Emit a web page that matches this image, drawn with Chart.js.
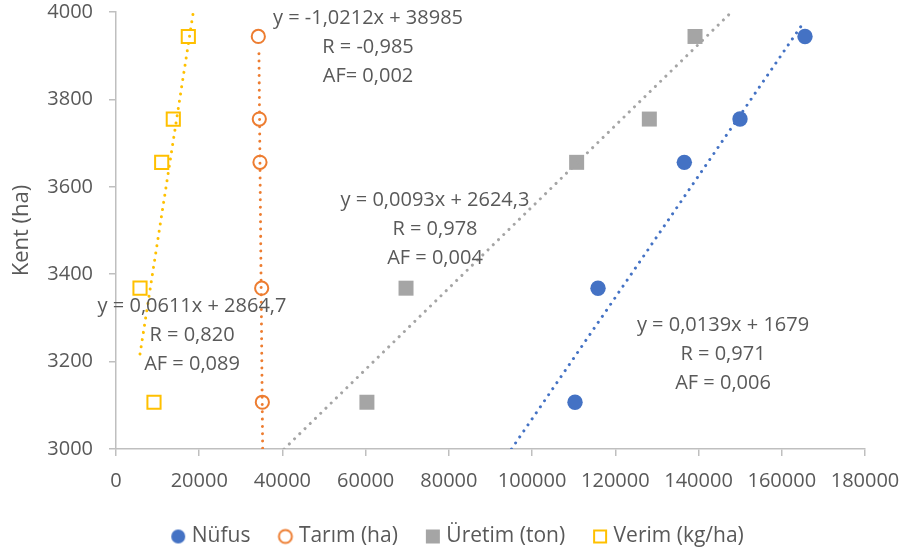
<!DOCTYPE html>
<html><head><meta charset="utf-8">
<script src="https://cdn.jsdelivr.net/npm/chart.js@4"></script>
<style>html,body{margin:0;padding:0;background:#fff}#wrap{width:907px;height:554px;position:relative}</style>
</head><body><div id="wrap"><canvas id="c"></canvas></div>
<script>
// ---- data ----
const seriesNames = ['Nüfus', 'Tarım (ha)', 'Üretim (ton)', 'Verim (kg/ha)'];
const kent = [3944, 3755, 3656, 3368, 3107];
const nufus = [165580, 149960, 136580, 115840, 110310];
const tarim = [34200, 34440, 34600, 35010, 35170];
const uretim = [139150, 128170, 110700, 69700, 60300];
const verim = [17380, 13770, 10980, 5770, 9130];
const trendSlope = [0.0139, -1.0212, 0.0093, 0.0611];
const trendIntercept = [1679, 38985, 2624.3, 2864.7];
const trendStartX = [95036, 34352, 40398, 5770];
const trendEndX = [165000, 35238, 147925, 18581];
const eqLabels = ['y = 0,0139x + 1679', 'y = -1,0212x + 38985', 'y = 0,0093x + 2624,3', 'y = 0,0611x + 2864,7'];
const rLabels = ['R = 0,971', 'R = -0,985', 'R = 0,978', 'R = 0,820'];
const afLabels = ['AF = 0,006', 'AF= 0,002', 'AF = 0,004', 'AF = 0,089'];
const xTicks = [0, 20000, 40000, 60000, 80000, 100000, 120000, 140000, 160000, 180000];
const yTicks = [3000, 3200, 3400, 3600, 3800, 4000];
const yTitle = 'Kent (ha)';

// ---- styles ----
const colors = ['#4472C4', '#ED7D31', '#A5A5A5', '#FFC000'];
const TEXT = '#595959';
const FONT = '"Open Sans", "Noto Sans", sans-serif';
const labelAnchors = [[145880, 3284], [60560, 3985], [76660, 3570], [18270, 3327]];

function pts(xs) { return xs.map((x, i) => ({x: x, y: kent[i]})); }
function trendPts(i) {
  return [trendStartX[i], trendEndX[i]].map(x => ({x: x, y: trendSlope[i] * x + trendIntercept[i]}));
}
// legend icons: wide canvas with the marker shifted right so it sits close to its text
function icon(kind, color) {
  const c = document.createElement('canvas');
  c.width = 30; c.height = 18;
  const g = c.getContext('2d');
  const cx = 21, cy = 9;
  g.fillStyle = color; g.strokeStyle = color; g.lineWidth = 2;
  if (kind === 0) { g.beginPath(); g.arc(cx, cy, 7, 0, Math.PI * 2); g.fill(); }
  if (kind === 1) { g.beginPath(); g.arc(cx, cy, 6.5, 0, Math.PI * 2); g.stroke(); }
  if (kind === 2) { g.fillRect(cx - 7, cy - 7, 14, 14); }
  if (kind === 3) { g.strokeRect(cx - 6, cy - 6, 12, 12); }
  return c;
}
const icons = colors.map((c, i) => icon(i, c));

const trendSets = colors.map((c, i) => ({
  label: 'trend' + i, data: trendPts(i), showLine: true, pointRadius: 0, pointHoverRadius: 0,
  borderColor: c, borderWidth: 3, borderDash: [0.01, 7.3], borderCapStyle: 'round', fill: false
}));
const markerSets = [
  {label: seriesNames[0], data: pts(nufus), pointStyle: 'circle', pointRadius: 7.7, backgroundColor: colors[0], borderColor: colors[0], borderWidth: 0},
  {label: seriesNames[1], data: pts(tarim), pointStyle: 'circle', pointRadius: 6.6, backgroundColor: 'rgba(0,0,0,0)', borderColor: colors[1], borderWidth: 2},
  {label: seriesNames[2], data: pts(uretim), pointStyle: 'rect', pointRadius: 10.6, backgroundColor: colors[2], borderColor: colors[2], borderWidth: 0},
  {label: seriesNames[3], data: pts(verim), pointStyle: 'rect', pointRadius: 9.3, backgroundColor: 'rgba(0,0,0,0)', borderColor: colors[3], borderWidth: 2}
];

const annot = {
  id: 'annot',
  afterDraw(chart) {
    const ctx = chart.ctx, xs = chart.scales.x, ys = chart.scales.y;
    ctx.save();
    ctx.font = '20px ' + FONT; ctx.fillStyle = TEXT;
    ctx.textAlign = 'center'; ctx.textBaseline = 'middle';
    labelAnchors.forEach((a, i) => {
      const px = xs.getPixelForValue(a[0]), py = ys.getPixelForValue(a[1]);
      [eqLabels[i], rLabels[i], afLabels[i]].forEach((t, k) => ctx.fillText(t, px, py + k * 29));
    });
    ctx.restore();
  }
};

new Chart(document.getElementById('c'), {
  type: 'scatter',
  data: {datasets: trendSets.concat(markerSets)},
  options: {
    responsive: true, maintainAspectRatio: false, animation: false,
    layout: {padding: {left: 0, right: 0, top: 0, bottom: -3}},
    plugins: {
      tooltip: {enabled: false},
      legend: {
        position: 'bottom',
        labels: {
          usePointStyle: true, pointStyleWidth: 18, boxWidth: 18, boxHeight: 7, padding: 20,
          font: {family: FONT, size: 21}, color: TEXT,
          generateLabels: () => seriesNames.map((n, i) => ({
            text: n, pointStyle: icons[i], fillStyle: colors[i], strokeStyle: colors[i],
            lineWidth: 0, hidden: false, datasetIndex: 4 + i, fontColor: TEXT
          }))
        }
      }
    },
    scales: {
      x: {
        type: 'linear', min: 0, max: 180000,
        afterBuildTicks: s => { s.ticks = xTicks.map(v => ({value: v})); },
        afterFit: s => { s.paddingRight = 42; s.paddingLeft = 0; },
        ticks: {font: {family: FONT, size: 20}, color: TEXT, padding: 13, maxRotation: 0, callback: v => String(v)},
        grid: {drawOnChartArea: false, drawTicks: true, tickLength: 7, color: '#BFBFBF', lineWidth: 1.5},
        border: {color: '#BFBFBF', width: 1.5}
      },
      y: {
        type: 'linear', min: 3000, max: 4000,
        afterBuildTicks: s => { s.ticks = yTicks.map(v => ({value: v})); },
        afterFit: s => { s.width = 116; s.paddingTop = 12; s.paddingBottom = 12; },
        title: {display: true, text: yTitle, font: {family: FONT, size: 22}, color: TEXT, padding: {top: 9, bottom: 0}},
        ticks: {font: {family: FONT, size: 20}, color: TEXT, padding: 16, callback: v => String(v)},
        grid: {drawOnChartArea: false, drawTicks: true, tickLength: 7, color: '#BFBFBF', lineWidth: 1.5},
        border: {color: '#BFBFBF', width: 1.5}
      }
    }
  },
  plugins: [annot]
});
</script></body></html>
